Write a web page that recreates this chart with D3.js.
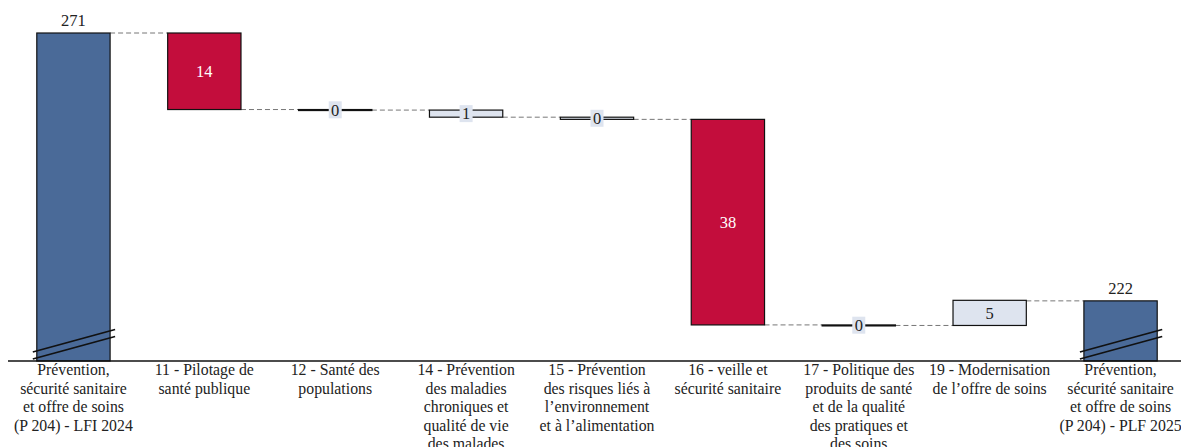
<!DOCTYPE html>
<html><head><meta charset="utf-8">
<script src="https://cdn.jsdelivr.net/npm/d3@7/dist/d3.min.js"></script>
<style>body{margin:0;background:#fff}svg{display:block}</style>
</head><body>
<svg id="c" width="1181" height="447"></svg>
<script>
const categories = [
  "Prévention,|sécurité sanitaire|et offre de soins|(P 204) - LFI 2024",
  "11 - Pilotage de|santé publique",
  "12 - Santé des|populations",
  "14 - Prévention|des maladies|chroniques et|qualité de vie|des malades",
  "15 - Prévention|des risques liés à|l’environnement|et à l’alimentation",
  "16 - veille et|sécurité sanitaire",
  "17 - Politique des|produits de santé|et de la qualité|des pratiques et|des soins",
  "19 - Modernisation|de l’offre de soins",
  "Prévention,|sécurité sanitaire|et offre de soins|(P 204) - PLF 2025"
];
const startTotal = 271;
const endTotal = 222;
const deltas = [-14.0, -0.1, -1.3, -0.4, -37.6, -0.1, 4.6];
const axisMin = 211;

const W = 1181, H = 447;
const svg = d3.select("#c");
const font = "'Liberation Serif', serif";
const x = d3.scaleBand().domain(categories).range([8, 1186]).paddingInner(0.44).paddingOuter(0.22);
const y = d3.scaleLinear().domain([axisMin, startTotal]).range([361, 33]);

const bars = [];
bars.push({cat: categories[0], y0: axisMin, y1: startTotal, type: "total", value: startTotal});
let cum = startTotal;
deltas.forEach((d, i) => {
  const a = cum, b = cum + d;
  bars.push({cat: categories[i + 1], y0: Math.min(a, b), y1: Math.max(a, b), type: Math.abs(d) >= 10 ? "big" : "small", value: d});
  cum = b;
});
bars.push({cat: categories[8], y0: axisMin, y1: endTotal, type: "total", value: endTotal});

const fill = {total: "#4A6A98", big: "#C30D3C", small: "#DEE4EF"};

const levels = [startTotal];
let c2 = startTotal;
deltas.forEach(d => { c2 += d; levels.push(c2); });
levels[levels.length - 1] = endTotal;
for (let i = 0; i < bars.length - 1; i++) {
  const lv = levels[i];
  svg.append("line")
    .attr("x1", x(bars[i].cat) + x.bandwidth()).attr("x2", x(bars[i + 1].cat))
    .attr("y1", y(lv)).attr("y2", y(lv))
    .attr("stroke", "#777").attr("stroke-width", 1).attr("stroke-dasharray", "5,3");
}

svg.selectAll("rect.bar").data(bars).join("rect").attr("class", "bar")
  .attr("x", d => x(d.cat)).attr("width", x.bandwidth())
  .attr("y", d => y(d.y1)).attr("height", d => Math.max(1, y(d.y0) - y(d.y1)))
  .attr("fill", d => fill[d.type]).attr("stroke", "#111").attr("stroke-width", 1.2);

bars.filter(d => d.type === "total").forEach(d => {
  const x0 = x(d.cat) - 4, x1 = x(d.cat) + x.bandwidth() + 5;
  [0, 7].forEach(off => {
    svg.append("line").attr("x1", x0).attr("x2", x1)
      .attr("y1", 352 + off).attr("y2", 329.5 + off)
      .attr("stroke", "#111").attr("stroke-width", 1.8);
  });
});

svg.append("line").attr("x1", 8).attr("x2", W).attr("y1", 361).attr("y2", 361).attr("stroke", "#111").attr("stroke-width", 1.5);

bars.forEach(d => {
  const cx = x(d.cat) + x.bandwidth() / 2;
  const txt = String(Math.round(Math.abs(d.value)));
  if (d.type === "total") {
    svg.append("text").attr("x", cx).attr("y", y(d.y1) - 7).attr("text-anchor", "middle")
      .attr("font-family", font).attr("font-size", 16.5).attr("fill", "#222").text(txt);
  } else {
    const cy = (y(d.y0) + y(d.y1)) / 2;
    const h = y(d.y0) - y(d.y1);
    if (h < 18) {
      svg.append("rect").attr("x", cx - 6.5).attr("y", cy - 8.5).attr("width", 13).attr("height", 17)
        .attr("fill", "#DEE4EF");
    }
    svg.append("text").attr("x", cx).attr("y", cy).attr("dy", "0.35em").attr("text-anchor", "middle")
      .attr("font-family", font).attr("font-size", 16.5)
      .attr("fill", d.type === "big" ? "#fff" : "#222").text(txt);
  }
});

categories.forEach(c => {
  const cx = x(c) + x.bandwidth() / 2;
  const t = svg.append("text").attr("x", cx).attr("y", 375).attr("text-anchor", "middle")
    .attr("font-family", font).attr("font-size", 15.8).attr("fill", "#222");
  c.split("|").forEach((ln, i) => {
    t.append("tspan").attr("x", cx).attr("y", 375 + i * 18.5).text(ln);
  });
});
</script>
</body></html>
